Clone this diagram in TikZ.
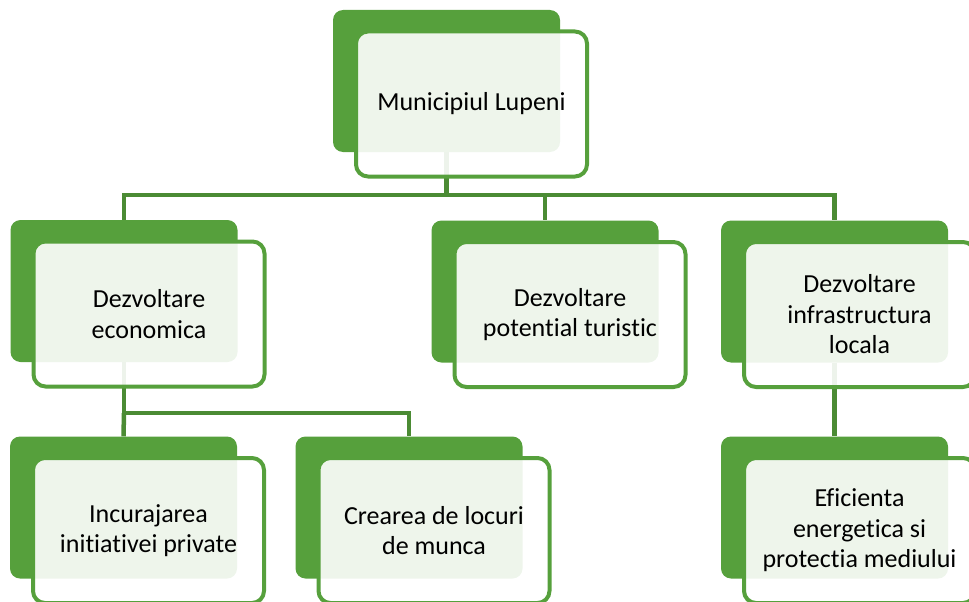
\documentclass[tikz,border=0pt]{standalone}
\usepackage{fontspec}
\setmainfont[Ligatures={NoCommon}]{Carlito}
\usetikzlibrary{calc}
\definecolor{gback}{HTML}{56A03C}
\definecolor{gline}{HTML}{4B8B34}
\begin{document}
\begin{tikzpicture}[x=1pt,y=-1pt,
  backbox/.style={fill=gback, draw=none, rounded corners=10pt, minimum width=227pt, minimum height=142pt, inner sep=0pt},
  frontbox/.style={draw=gback, line width=4pt, fill=white, fill opacity=0.9, text opacity=1, rounded corners=12pt, minimum width=231pt, minimum height=145pt, inner sep=0pt, align=center, font=\fontsize{26}{30.5}\selectfont},
  conn/.style={draw=gline, line width=4.5pt}]
\useasboundingbox (0,0) rectangle (969,602);
\clip (0,0) rectangle (969,602);
% back boxes
\node[backbox] (b1) at (446.5,81) {};
\node[backbox] (b2) at (124,291) {};
\node[backbox] (b3) at (545,291.5) {};
\node[backbox] (b4) at (834.5,291.5) {};
\node[backbox] (b5) at (123.5,507.5) {};
\node[backbox] (b6) at (409,507.5) {};
\node[backbox] (b7) at (834.5,507.5) {};
% connectors
\coordinate (bus1) at (446.5,195);
\coordinate (bus2) at (124,413);
\draw[conn] (b1.south) -- (b1.south |- bus1) -| (b2.north);
\draw[conn] (b1.south |- bus1) -| (b3.north);
\draw[conn] (b1.south |- bus1) -| (b4.north);
\draw[conn] (b2.south) -- (b2.south |- bus2) -| (b6.north);
\draw[conn] (b2.south |- bus2) -- (b5.north);
\draw[conn] (b4.south) -- (b7.north);
% front boxes
\node[frontbox] (f1) at ($(b1)+(25,23)$) {Municipiul Lupeni};
\node[frontbox] (f2) at ($(b2)+(25,23)$) {Dezvoltare\\economica};
\node[frontbox] (f3) at ($(b3)+(25,23)$) {Dezvoltare\\potential turistic};
\node[frontbox] (f4) at ($(b4)+(25,23)$) {Dezvoltare\\infrastructura\\locala};
\node[frontbox] (f5) at ($(b5)+(25,23)$) {Incurajarea\\initiativei private};
\node[frontbox] (f6) at ($(b6)+(25,23)$) {Crearea de locuri\\de munca};
\node[frontbox] (f7) at ($(b7)+(25,23)$) {Eficienta\\energetica si\\protectia mediului};
\end{tikzpicture}
\end{document}
